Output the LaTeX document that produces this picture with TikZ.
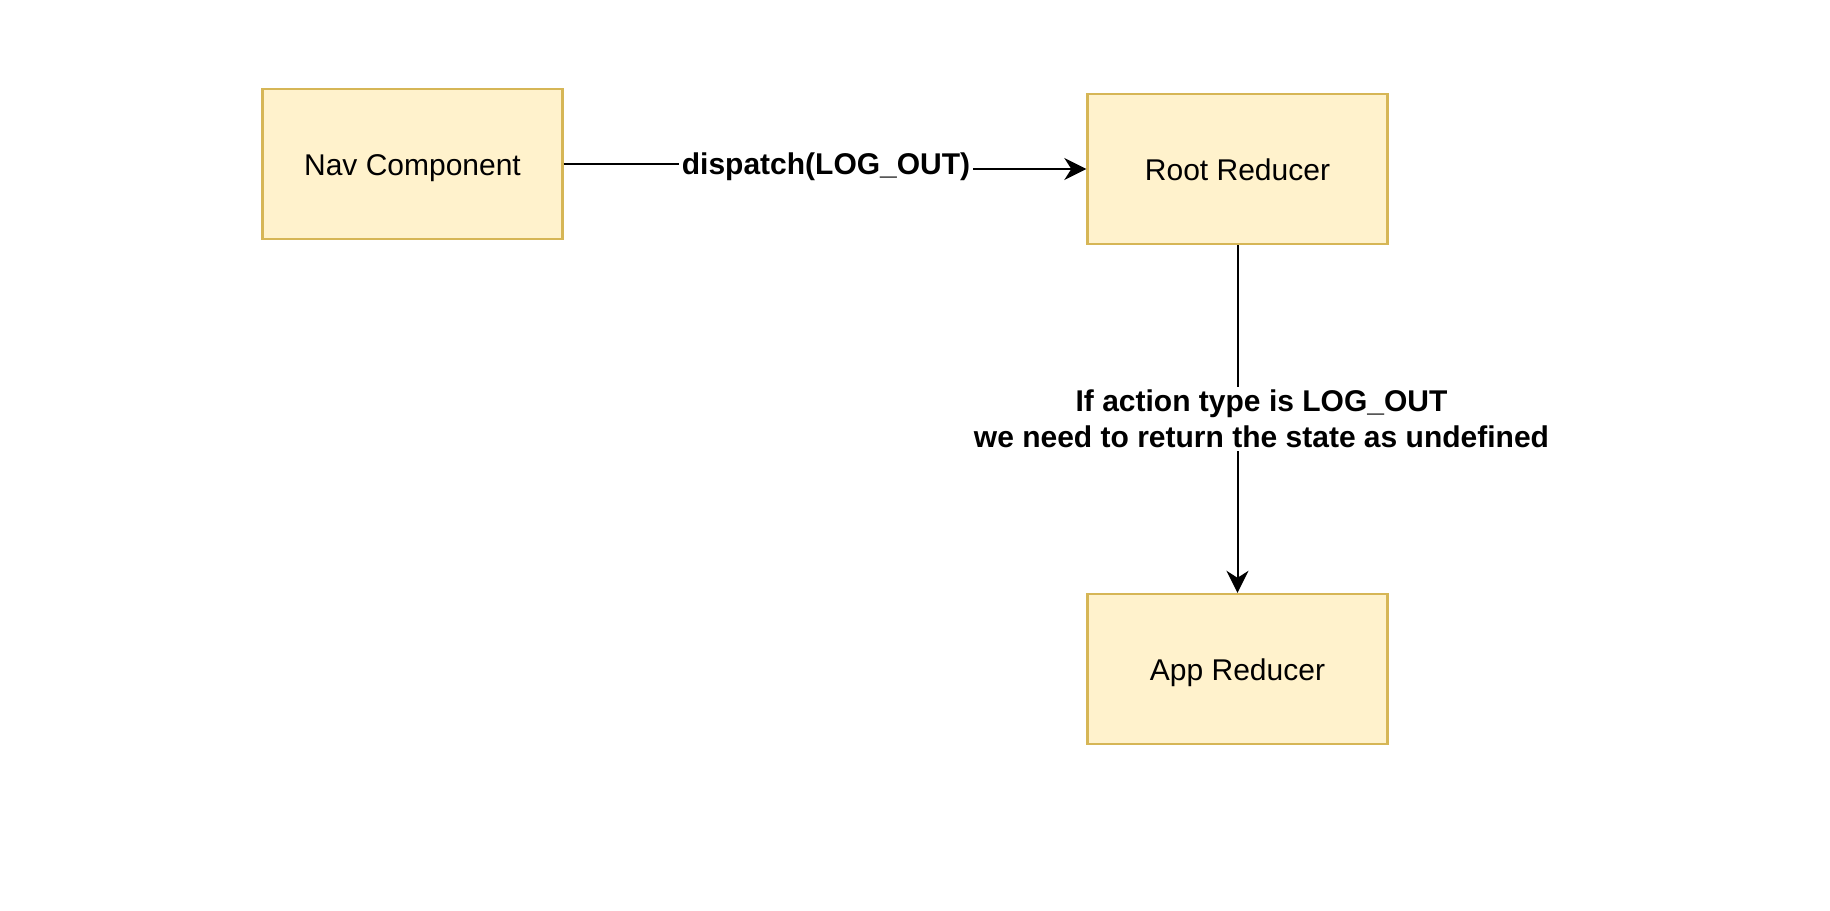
\documentclass[tikz,border=0pt]{standalone}
\usepackage{fontspec}
\setmainfont{Liberation Sans}
\usetikzlibrary{calc}
\usetikzlibrary{arrows.meta}
\usepackage{xcolor}
\definecolor{boxfill}{HTML}{FFF2CC}
\definecolor{boxline}{HTML}{D6B656}

\begin{document}
\begin{tikzpicture}[x=0.5pt,y=-0.5pt,
  block/.style={draw=boxline,fill=boxfill,line width=1.2pt,minimum width=150pt,minimum height=75pt,inner sep=0pt,text height=11pt,text depth=0pt,font=\fontsize{15}{18}\selectfont},
  flow/.style={draw=black,line width=1pt,-{Stealth[length=11pt,width=11pt,inset=3.5pt]}},
  tag/.style={fill=white,font=\fontsize{15}{18}\selectfont\bfseries,inner sep=1.5pt,align=center}]
\fill[white] (0,0) rectangle (1830,910);
\useasboundingbox (0,0) rectangle (1830,910);
\node[block] (nav) at (412.5,164) {Nav Component};
\node[block] (root) at (1237.5,169) {Root Reducer};
\node[block] (app) at (1237.5,669) {App Reducer};
\coordinate (jog) at (825,164);
\draw[flow] (nav) -- (jog) |- (root);
\node[tag] (disp) at (826,166.5) {dispatch(LOG\_OUT)};
\draw[flow] (root) -- (app) node[tag,midway,xshift=12pt]{If action type is LOG\_OUT\\we need to return the state as undefined};
\end{tikzpicture}
\end{document}
